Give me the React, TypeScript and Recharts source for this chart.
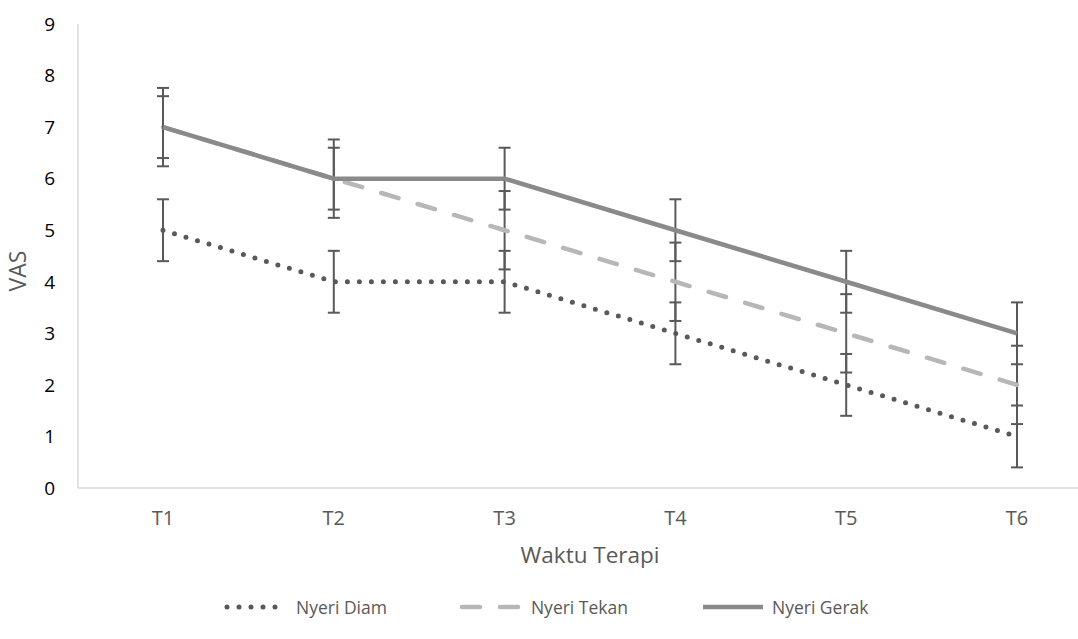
import { CartesianGrid, ErrorBar, Label, Line, LineChart, XAxis, YAxis } from 'recharts'

const waktu = ['T1', 'T2', 'T3', 'T4', 'T5', 'T6']
const nyeriDiam = [5, 4, 4, 3, 2, 1]
const nyeriTekan = [7, 6, 5, 4, 3, 2]
const nyeriGerak = [7, 6, 6, 5, 4, 3]
const errDiam = [0.6, 0.6, 0.6, 0.6, 0.6, 0.6]
const errTekan = [0.76, 0.76, 0.76, 0.76, 0.76, 0.76]
const errGerak = [0.6, 0.6, 0.6, 0.6, 0.6, 0.6]
const vasTicks = [0, 1, 2, 3, 4, 5, 6, 7, 8, 9]

const FONT = '"Open Sans", sans-serif'
const TEXT = '#595959'
const AXIS = '#d9d9d9'
const ERR = '#595959'

const series = [
  { key: 'diam', name: 'Nyeri Diam', color: '#595959', dash: '0 12', width: 5 },
  { key: 'tekan', name: 'Nyeri Tekan', color: '#b7b7b7', dash: '18 20', width: 4.5 },
  { key: 'gerak', name: 'Nyeri Gerak', color: '#8a8a8a', dash: undefined, width: 4.5 },
]

const data = waktu.map((t, i) => ({
  t,
  diam: nyeriDiam[i],
  tekan: nyeriTekan[i],
  gerak: nyeriGerak[i],
  diamErr: errDiam[i],
  tekanErr: errTekan[i],
  gerakErr: errGerak[i],
}))

// legend drawn as html under the chart, samples match the series strokes
function LegendRow() {
  return (
    <div
      style={{
        position: 'absolute',
        top: 595,
        left: 224,
        display: 'flex',
        gap: 72,
        fontFamily: FONT,
        fontSize: 17.5,
        color: TEXT,
      }}
    >
      {series.map((s) => (
        <div key={s.key} style={{ display: 'flex', alignItems: 'center', gap: 6 }}>
          <svg width={66} height={24}>
            <line
              x1={3}
              x2={63}
              y1={12}
              y2={12}
              stroke={s.color}
              strokeWidth={s.width}
              strokeDasharray={s.dash}
              strokeLinecap={s.dash ? 'round' : 'butt'}
            />
          </svg>
          <span>{s.name}</span>
        </div>
      ))}
    </div>
  )
}

export default function App() {
  return (
    <div
      style={{
        position: 'fixed',
        left: 0,
        top: 0,
        width: 1078,
        height: 639,
        overflow: 'hidden',
        background: '#fff',
      }}
    >
      <LineChart width={1102} height={639} data={data} margin={{ top: 24, right: 0, bottom: 0, left: 0 }}>
        <CartesianGrid stroke="none" />
        <XAxis
          dataKey="t"
          height={151}
          padding={{ left: 85, right: 85 }}
          axisLine={{ stroke: AXIS, strokeWidth: 1.5 }}
          tickLine={false}
          tickSize={0}
          tickMargin={23}
          tick={{ fill: TEXT, fontSize: 20, fontFamily: FONT }}
        >
          <Label
            content={({ viewBox }: any) => (
              <text
                x={viewBox.x + 512}
                y={viewBox.y + 69}
                textAnchor="middle"
                dominantBaseline="middle"
                fill={TEXT}
                fontSize={22.5}
                fontFamily={FONT}
              >
                Waktu Terapi
              </text>
            )}
          />
        </XAxis>
        <YAxis
          width={78}
          domain={[0, 9]}
          ticks={vasTicks}
          axisLine={{ stroke: AXIS, strokeWidth: 1.5 }}
          tickLine={false}
          tickSize={0}
          tickMargin={23}
          tick={{ fill: '#000', fontSize: 19, fontFamily: FONT }}
        >
          <Label
            content={({ viewBox }: any) => {
              const cy = viewBox.y + viewBox.height / 2 + 15
              return (
                <text
                  x={20}
                  y={cy}
                  transform={`rotate(-90 20 ${cy})`}
                  textAnchor="middle"
                  dominantBaseline="middle"
                  fill={TEXT}
                  fontSize={23}
                  fontFamily={FONT}
                >
                  VAS
                </text>
              )
            }}
          />
        </YAxis>
        {series.map((s) => (
          <Line
            key={s.key}
            dataKey={s.key}
            name={s.name}
            stroke={s.color}
            strokeWidth={s.width}
            strokeDasharray={s.dash}
            strokeLinecap={s.dash ? 'round' : 'butt'}
            dot={false}
            activeDot={false}
            isAnimationActive={false}
          >
            <ErrorBar dataKey={`${s.key}Err`} direction="y" width={6} stroke={ERR} strokeWidth={2} />
          </Line>
        ))}
      </LineChart>
      <LegendRow />
    </div>
  )
}
